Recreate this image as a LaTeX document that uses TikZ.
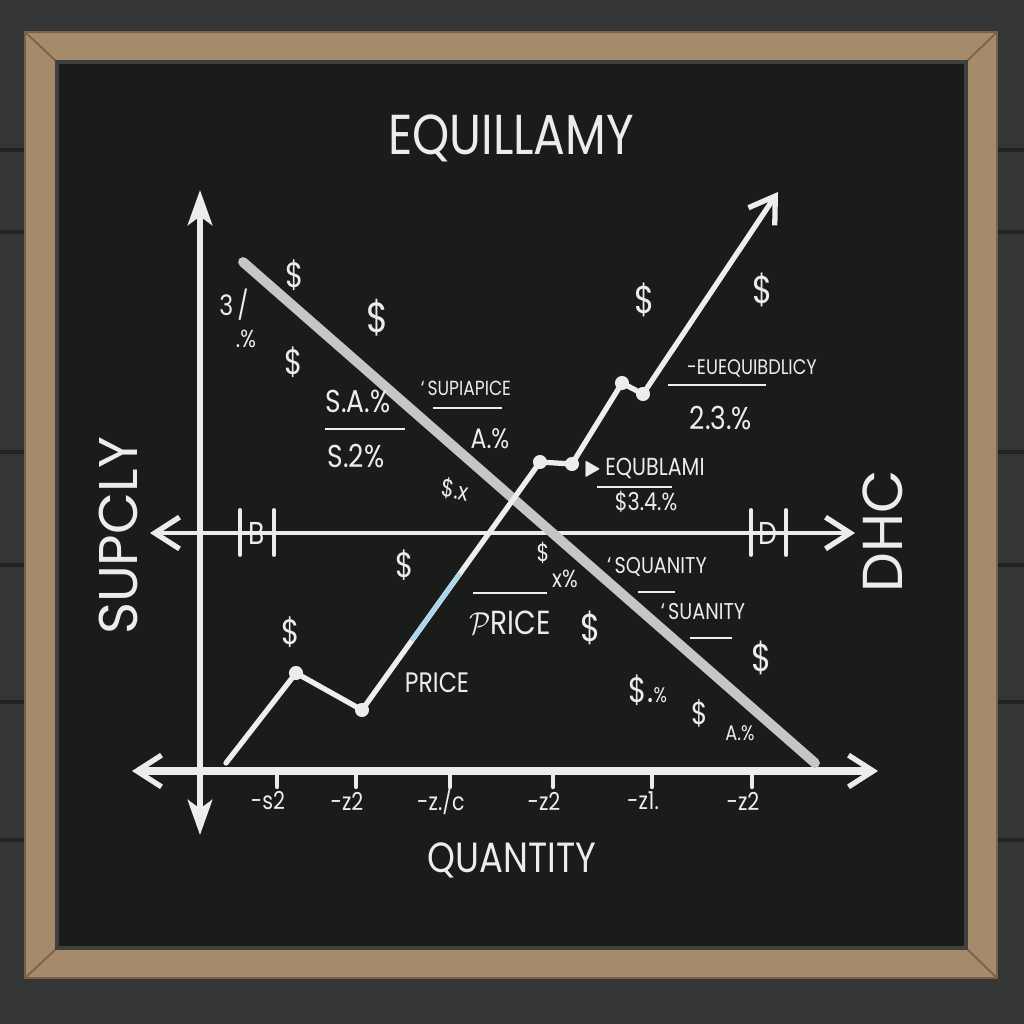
\documentclass[tikz,border=0pt]{standalone}
\usepackage{amssymb}
\usepackage{fontspec}
\setmainfont{Poppins}
\usetikzlibrary{arrows.meta, calc}
\definecolor{wall}{HTML}{343535}
\definecolor{plank}{HTML}{222323}
\definecolor{wood}{HTML}{A68A6C}
\definecolor{woodDark}{HTML}{7A6049}
\definecolor{board}{HTML}{1A1C1A}
\definecolor{chalk}{HTML}{ECECEC}
\definecolor{chalkGrey}{HTML}{C6C6C6}
\definecolor{chalkBlue}{HTML}{A9D6EE}

\begin{document}
\begin{tikzpicture}[x=0.01cm, y=-0.01cm,
    chalk/.style={text=chalk, inner sep=0pt, xscale=0.84},
    fs/.style={font=\fontsize{#1}{#1}\selectfont},
    axis/.style={draw=chalk, line width=1.6pt, line cap=round},
    stealthtip/.style={{Stealth[length=10pt, width=7pt, inset=2.5pt]}-{Stealth[length=10pt, width=7pt, inset=2.5pt]}},
    barbs/.style={{Straight Barb[length=7pt, width=9pt, line width=1.5pt]}-{Straight Barb[length=7pt, width=9pt, line width=1.5pt]}},
    rule/.style={draw=chalk!85, line width=0.6pt},
    kink/.style={circle, fill=chalk, inner sep=0pt, minimum size=4pt}]

  \useasboundingbox (0,0) rectangle (1024,1024);

  % wall and frame
  \fill[wall] (0,0) rectangle (1024,1024);
  \foreach \y in {150,232,452,565,702,840}
    \draw[plank, line width=1pt] (0,\y) -- (1024,\y);
  \fill[wood] (25,32) rectangle (997,978);
  \draw[woodDark, line width=0.6pt] (25,32) rectangle (997,978);
  \draw[woodDark, line width=0.5pt] (25,32) -- (57,62) (997,32) -- (966,62)
        (25,978) -- (57,948) (997,978) -- (966,948);
  \fill[board] (57,62) rectangle (966,948);
  \draw[black!75, line width=1pt] (57,62) rectangle (966,948);

  % axes
  \coordinate (vaxT) at (200,190);
  \coordinate (vaxB) at (200,835);
  \coordinate (haxL) at (132,771);
  \coordinate (haxR) at (878,771);
  \coordinate (midL) at (150,533);
  \coordinate (midR) at (855,533);
  \draw[axis, stealthtip] (vaxB) -- (vaxT);
  \draw[axis, line width=2.2pt, barbs] (haxL) -- (haxR);
  \draw[axis, line width=1.2pt, barbs] (midL) -- (midR);
  \foreach \x in {240,274,751,786}
    \draw[axis, line width=1.1pt] (\x,510) -- (\x,555);
  \node[chalk, fs=9] (bLbl) at (257,533) {B};
  \node[chalk, fs=9] (dLbl) at (768,533) {D};

  % ticks on the quantity axis
  \foreach \x/\lab in {277/{-s2}, 356/{-z2}, 450/{-z./c}, 553/{-z2}, 652/{-z1.}, 752/{-z2}} {
    \draw[axis, line width=1.2pt] (\x,772) -- (\x,787);
    \node[chalk, fs=7] (tk\x) at (\x-9,801) {\lab};
  }

  % demand line
  \coordinate (dmdA) at (243,262);
  \coordinate (dmdB) at (815,763);
  \draw[chalkGrey, line width=2.8pt, line cap=round] (dmdA) -- (dmdB);

  % supply curve
  \coordinate (s0) at (226,763);
  \coordinate (s1) at (296,673);
  \coordinate (s2) at (362,710);
  \coordinate (s3) at (540,462);
  \coordinate (s4) at (572,464);
  \coordinate (s5) at (622,383);
  \coordinate (s6) at (643,394);
  \coordinate (s7) at (778,192);
  \draw[chalk!90, line width=1.5pt, line cap=round, line join=round,
        -{Straight Barb[length=7pt, width=9pt, line width=1.5pt]}]
    (s0) -- (s1) -- (s2) -- (s3) -- (s4) -- (s5) -- (s6) -- (s7);
  \draw[chalkBlue, line width=1.2pt] ($(s2)!0.28!(s3)$) -- ($(s2)!0.55!(s3)$);
  \foreach \k in {s1,s2,s3,s4,s5,s6}
    \node[kink] at (\k) {};

  % title and axis names
  \node[chalk, fs=16] (title) at (511,138) {EQUILLAMY};
  \node[chalk, fs=12] (qty) at (512,860) {QUANTITY};
  \node[text=chalk, inner sep=0pt, fs=15.5, rotate=90] (supLbl) at (118,536) {SUPCLY};
  \node[text=chalk, inner sep=0pt, fs=16, rotate=90] (dhcLbl) at (883,531) {DHC};

  % dollar signs
  \node[chalk, fs=10] (dl1) at (295,275) {\$};
  \node[chalk, fs=12] (dl2) at (378,318) {\$};
  \node[chalk, fs=10] (dl3) at (294,362) {\$};
  \node[chalk, fs=10] (dl4) at (405,565) {\$};
  \node[chalk, fs=10] (dl5) at (291,632) {\$};
  \node[chalk, fs=11] (dl6) at (645,300) {\$};
  \node[chalk, fs=11] (dl7) at (763,290) {\$};
  \node[chalk, fs=11] (dl8) at (591,628) {\$};
  \node[chalk, fs=11] (dl9) at (762,658) {\$};
  \node[chalk, fs=7]  (dl10) at (543,553) {\$};
  \node[chalk, fs=9]  (dl11) at (700,713) {\$};

  % left notes
  \node[chalk, fs=8] (n3) at (234,305) {3\,/};
  \node[chalk, fs=7] (npc) at (246,339) {.\%};
  \node[chalk, fs=9] (nsa) at (358,401) {S.A.\%};
  \draw[rule] (325,429) -- (405,429);
  \node[chalk, fs=9] (ns2) at (356,456) {S.2\%};
  \node[chalk, fs=5.8] (supi) at (466,388) {`\,SUPIAPICE};
  \draw[rule] (433,408) -- (502,408);
  \node[chalk, fs=8] (na) at (490,439) {A.\%};
  \node[chalk, fs=7, rotate=-10] (nsx) at (455,490) {\$.x};

  % right notes
  \node[chalk, fs=6] (eueq) at (752,368) {-EUEQUIBDLICY};
  \draw[rule] (668,385) -- (766,385);
  \node[chalk, fs=9] (n23) at (721,418) {2.3.\%};
  \node[chalk, fs=6.5] (eqbl) at (644,468) {\scriptsize$\blacktriangleright$\,EQUBLAMI};
  \draw[rule] (597,487) -- (672,487);
  \node[chalk, fs=7] (n34) at (646,502) {\$3.4.\%};
  \node[chalk, fs=7] (nxp) at (565,579) {x\%};
  \node[chalk, fs=6.5] (squa) at (657,567) {`\,SQUANITY};
  \draw[rule] (638,592) -- (675,592);
  \node[chalk, fs=6.5] (sua) at (703,612) {`\,SUANITY};
  \draw[rule] (690,638) -- (732,638);

  % price labels
  \draw[rule] (473,593) -- (547,593);
  \node[chalk, fs=9.5] (price2) at (510,623) {$\mathcal{P}$RICE};
  \node[chalk, fs=8] (price1) at (437,683) {PRICE};
  \node[chalk, fs=10] (dpc) at (648,690) {\$.{\fontsize{6}{6}\selectfont\%}};
  \node[chalk, fs=6] (na2) at (740,733) {A.\%};
\end{tikzpicture}
\end{document}
